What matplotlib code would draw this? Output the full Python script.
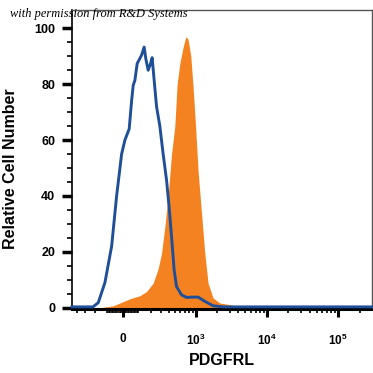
import numpy as np
import matplotlib.pyplot as plt

# display channel (0-300 across the axis) vs relative cell number
blue_x = [0, 21, 26.3, 33, 39.7, 44.7, 49.7, 53, 57.3, 59.7, 61.3, 63, 65.3, 69.7, 72.3,
          74, 76.3, 78.7, 80.3, 82, 84.7, 88, 91.3, 94.7, 97.3, 99.7, 102.3, 104.7,
          109.7, 114.7, 121.3, 126.3, 133, 141.3, 151.3, 300]
blue_y = [0.3, 0.3, 1.8, 9, 22, 40, 55, 60, 64, 74, 79.6, 81.4, 87.4, 90.4, 93.3,
          89, 85, 87.4, 89.5, 82.6, 72, 65, 55, 45.7, 36, 25.5, 13.6, 7.6,
          4.6, 3.7, 3.8, 3.8, 2.3, 0.7, 0.3, 0.3]

pos_x = [28, 41.3, 58, 68, 74.7, 81.3, 86.3, 89.7, 93, 96.3, 99.7, 103, 105.3, 108,
         111.3, 114, 116.3, 119, 121.3, 124, 126.3, 129.7, 133, 136.3, 141.3, 148,
         158, 168]
pos_y = [0, 0.7, 3.2, 4.3, 5.8, 8.8, 14, 19.5, 29, 40, 55, 65, 80, 87.4,
         93.3, 97, 96, 90, 79, 63.6, 49, 34, 19.5, 8.8, 3.5, 1.7,
         1.1, 0.3]

major_vals = [0, 1e3, 1e4, 1e5]
major_labels = ['$\\mathbf{0}$', '$\\mathbf{10^3}$', '$\\mathbf{10^4}$', '$\\mathbf{10^5}$']


def chan(v):
    # biexponential-like display transform
    return 51 + 31 * np.arcsinh(np.asarray(v, dtype=float) / 191.5)


minor_vals = ([-s * k for s in (10, 100) for k in range(1, 10)] +
              [s * k for s in (10, 100, 1e3, 1e4) for k in range(1, 10) if s * k not in major_vals] +
              [2e5, 3e5])
minor_pos = [p for p in chan(minor_vals) if 0 < p < 300]

plt.rcParams['font.family'] = ['Liberation Sans', 'DejaVu Sans']
plt.rcParams['mathtext.fontset'] = 'custom'
plt.rcParams['mathtext.bf'] = 'Liberation Sans:bold'
plt.rcParams['mathtext.rm'] = 'Liberation Sans'

fig = plt.figure(figsize=(3.73, 3.73), dpi=100)
ax = fig.add_axes([0.193, 0.172, 0.803, 0.8])

ax.fill_between(pos_x, pos_y, 0, color='#f58220', lw=0, zorder=2)
ax.plot(blue_x, blue_y, color='#1f4f98', lw=2.1, zorder=3, clip_on=False)

ax.set_xlim(0, 300)
ax.set_ylim(-0.4, 106.4)

ax.set_xticks(chan(major_vals))
ax.set_xticklabels(major_labels, fontsize=8.5)
ax.set_xticks(minor_pos, minor=True)
ax.tick_params(axis='x', which='major', length=6, width=2.2, pad=11)
ax.tick_params(axis='x', which='minor', length=3, width=1.2)

ax.set_yticks([0, 20, 40, 60, 80, 100])
ax.set_yticklabels(['0', '20', '40', '60', '80', '100'], fontsize=9, fontweight='bold')
ax.set_yticks(np.arange(0, 101, 5), minor=True)
ax.tick_params(axis='y', which='major', length=7, width=2.5, pad=5)
ax.tick_params(axis='y', which='minor', length=3.5, width=1.2)

for s in ('top', 'right'):
    ax.spines[s].set_color('#555555')
    ax.spines[s].set_linewidth(1.0)
ax.spines['left'].set_linewidth(1.2)
ax.spines['bottom'].set_linewidth(2.2)

ax.set_xlabel('PDGFRL', fontsize=11.5, fontweight='bold', labelpad=4)
ax.set_ylabel('Relative Cell Number', fontsize=11.5, fontweight='bold')
ax.yaxis.set_label_coords(-0.18, 0.47)

fig.text(0.027, 0.955, 'with permission from R&D Systems', fontsize=8.9,
         family='Liberation Serif', style='italic', va='baseline')

fig.savefig('out.png', dpi=100)
